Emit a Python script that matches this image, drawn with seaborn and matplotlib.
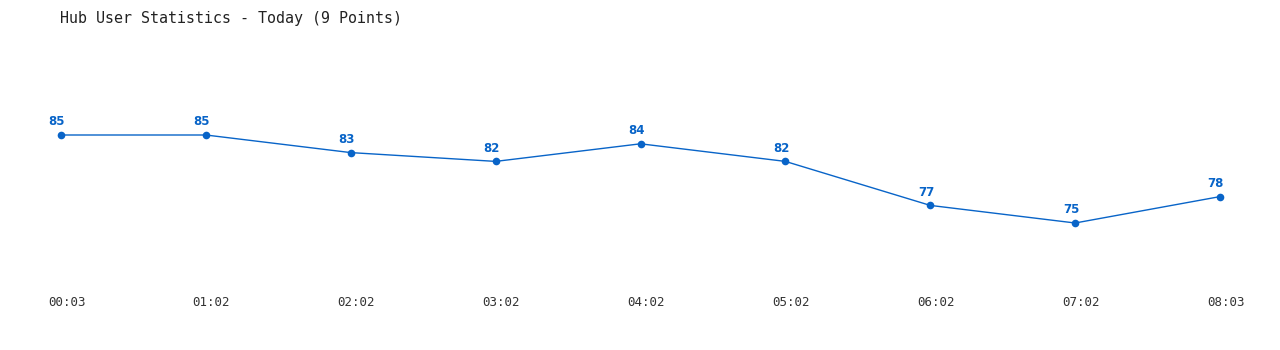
import matplotlib
matplotlib.use("Agg")
import matplotlib.pyplot as plt
import seaborn as sns
import pandas as pd

times = ["00:03", "01:02", "02:02", "03:02", "04:02", "05:02", "06:02", "07:02", "08:03"]
users = [85, 85, 83, 82, 84, 82, 77, 75, 78]
title = "Hub User Statistics - Today (9 Points)"

sns.set_style("white")
plt.rcParams['font.family'] = ['DejaVu Sans Mono', 'DejaVu Sans']

W, H = 1280, 350
fig = plt.figure(figsize=(W / 100, H / 100), dpi=100)
ax = fig.add_axes([61 / W, 39 / H, (1220 - 61) / W, 308 / H])

df = pd.DataFrame({"idx": range(len(times)), "users": users})
color = "#0864c8"
sns.lineplot(data=df, x="idx", y="users", ax=ax, color=color, linewidth=1.0,
             marker="o", markersize=5.5, markeredgewidth=0, clip_on=False)

ax.set_xlim(0, len(times) - 1)
ax.set_ylim(65, 100)
ax.axis("off")

for i, v in enumerate(users):
    ax.annotate(str(v), xy=(i, v), xytext=(-3, 9.5), textcoords="offset points",
                ha="center", va="center", fontsize=8.5, fontweight="bold",
                color=color, family="DejaVu Sans")

for i, t in enumerate(times):
    ax.annotate(t, xy=(i, 47 / H), xycoords=("data", "figure fraction"),
                xytext=(4, 0), textcoords="offset points",
                ha="center", va="center", fontsize=9, color="#333333")

fig.text(60 / W, 1 - 18 / H, title, ha="left", va="center", fontsize=10.8,
         color="#222222")

fig.savefig("out.png", dpi=100)
